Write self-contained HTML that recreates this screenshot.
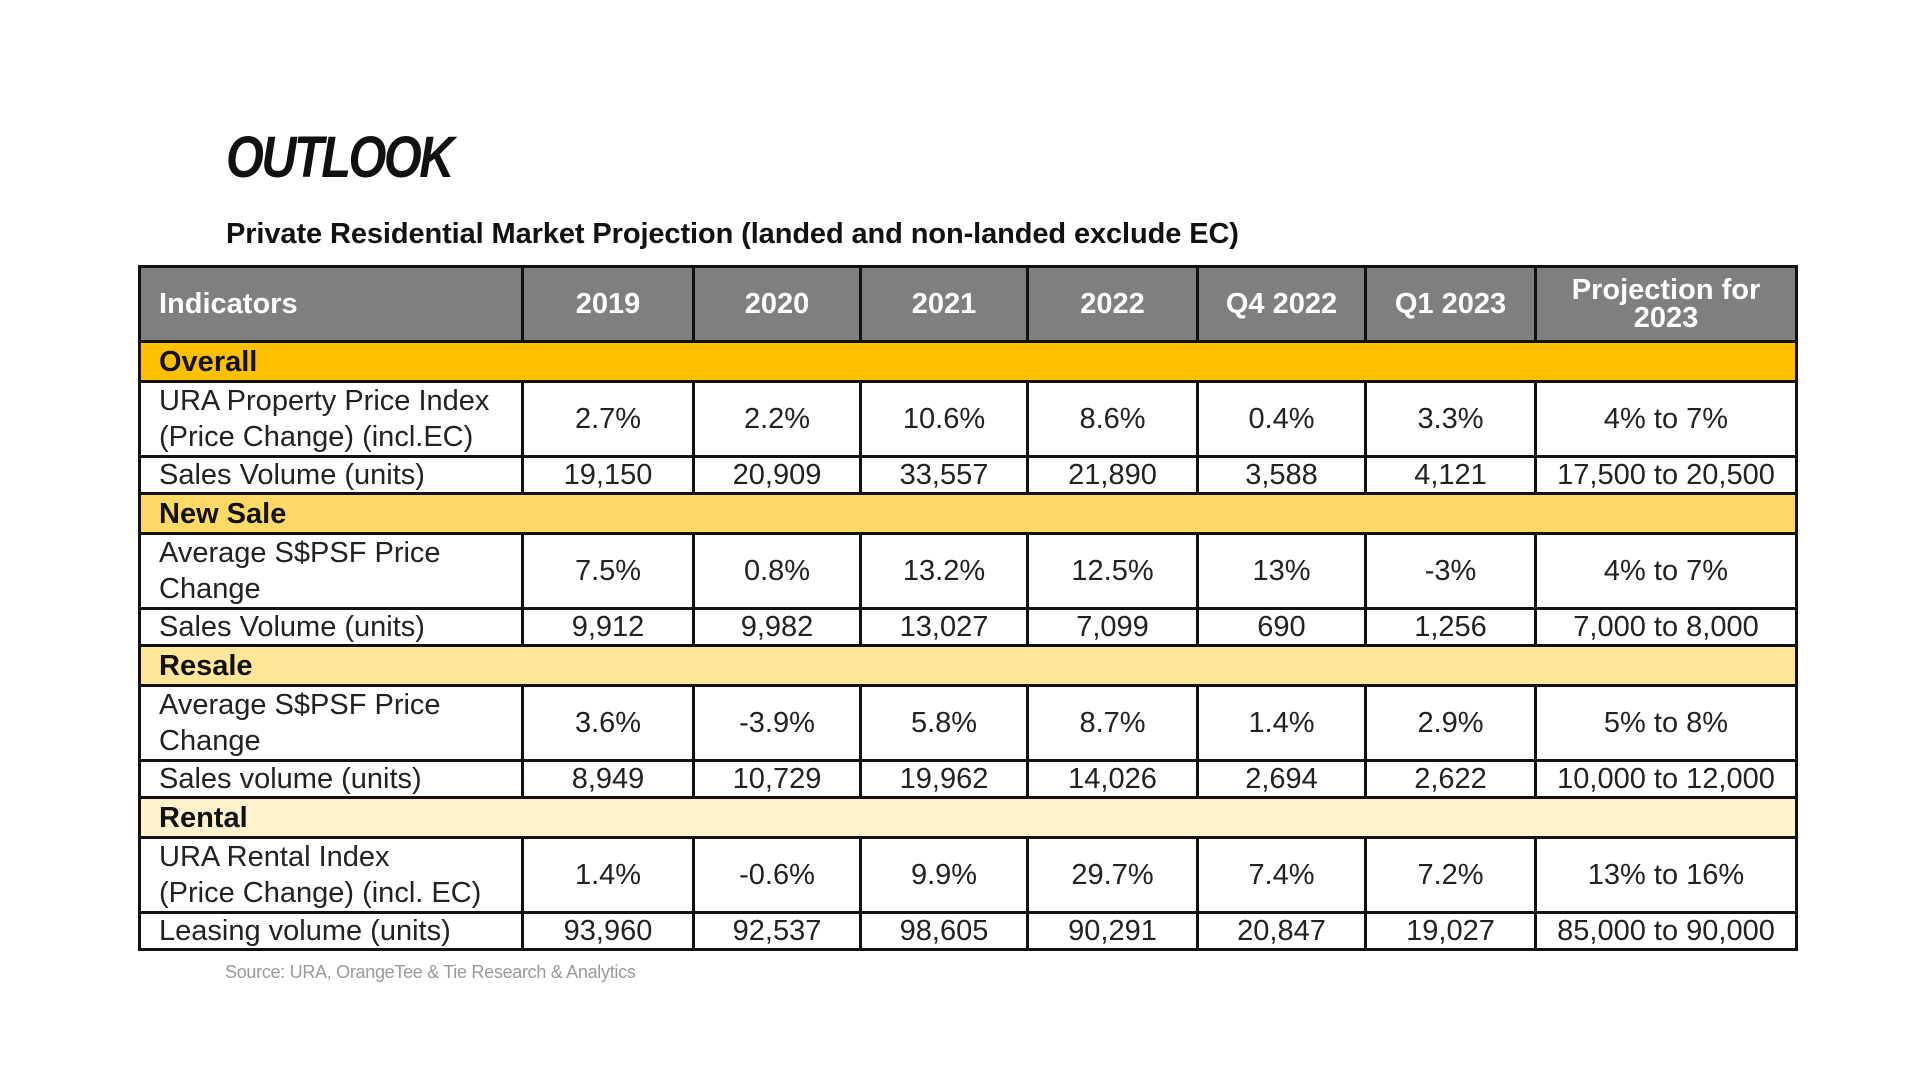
<!DOCTYPE html>
<html><head><meta charset="utf-8"><style>
html,body{margin:0;padding:0;background:#fff;width:1920px;height:1080px;overflow:hidden}
body{position:relative;font-family:"Liberation Sans",sans-serif}
.title{position:absolute;left:226px;top:124px;font-family:"Liberation Sans",sans-serif;font-style:italic;font-weight:bold;font-size:58px;letter-spacing:-3px;color:#111;transform:scaleX(0.84);transform-origin:left top}
.sub{position:absolute;left:226px;top:218px;font-family:"Liberation Sans",sans-serif;font-weight:bold;font-size:29px;color:#111;letter-spacing:-0.1px}
table{position:absolute;left:138px;top:265px;width:1657px;border-collapse:collapse;table-layout:fixed}
td{border:3px solid #111;padding:0;text-align:center;font-size:29px;color:#222;line-height:34px;overflow:hidden;white-space:nowrap}
td.l{text-align:left;padding-left:18px}
tr.h td{background:#7f7f7f;color:#fff;font-weight:bold;height:72px;line-height:28px;white-space:normal}
tr.s td{font-weight:bold;color:#111;text-align:left;padding-left:18px;height:37px;line-height:34px}
tr.t td{height:70px;line-height:36px}
tr.o td{height:30px}
.src{position:absolute;left:225px;top:962px;font-family:"Liberation Sans",sans-serif;font-size:18px;color:#999;letter-spacing:-0.3px}
</style></head><body>
<div class="title">OUTLOOK</div>
<div class="sub">Private Residential Market Projection (landed and non-landed exclude EC)</div>
<table>
<colgroup><col style="width:383px"><col style="width:171px"><col style="width:167px"><col style="width:167px"><col style="width:170px"><col style="width:168px"><col style="width:170px"><col style="width:261px"></colgroup>
<tr class="h"><td class="l">Indicators</td><td>2019</td><td>2020</td><td>2021</td><td>2022</td><td>Q4 2022</td><td>Q1 2023</td><td>Projection for<br>2023</td></tr>
<tr class="s"><td colspan="8" style="background:#ffc000">Overall</td></tr>
<tr class="t"><td class="l">URA Property Price Index<br>(Price Change) (incl.EC)</td><td>2.7%</td><td>2.2%</td><td>10.6%</td><td>8.6%</td><td>0.4%</td><td>3.3%</td><td>4% to 7%</td></tr>
<tr class="o"><td class="l">Sales Volume (units)</td><td>19,150</td><td>20,909</td><td>33,557</td><td>21,890</td><td>3,588</td><td>4,121</td><td>17,500 to 20,500</td></tr>
<tr class="s"><td colspan="8" style="background:#ffd966">New Sale</td></tr>
<tr class="t"><td class="l">Average S$PSF Price<br>Change</td><td>7.5%</td><td>0.8%</td><td>13.2%</td><td>12.5%</td><td>13%</td><td>-3%</td><td>4% to 7%</td></tr>
<tr class="o"><td class="l">Sales Volume (units)</td><td>9,912</td><td>9,982</td><td>13,027</td><td>7,099</td><td>690</td><td>1,256</td><td>7,000 to 8,000</td></tr>
<tr class="s"><td colspan="8" style="background:#ffe699">Resale</td></tr>
<tr class="t"><td class="l">Average S$PSF Price<br>Change</td><td>3.6%</td><td>-3.9%</td><td>5.8%</td><td>8.7%</td><td>1.4%</td><td>2.9%</td><td>5% to 8%</td></tr>
<tr class="o"><td class="l">Sales volume (units)</td><td>8,949</td><td>10,729</td><td>19,962</td><td>14,026</td><td>2,694</td><td>2,622</td><td>10,000 to 12,000</td></tr>
<tr class="s"><td colspan="8" style="background:#fff2cc">Rental</td></tr>
<tr class="t"><td class="l">URA Rental Index<br>(Price Change) (incl. EC)</td><td>1.4%</td><td>-0.6%</td><td>9.9%</td><td>29.7%</td><td>7.4%</td><td>7.2%</td><td>13% to 16%</td></tr>
<tr class="o"><td class="l">Leasing volume (units)</td><td>93,960</td><td>92,537</td><td>98,605</td><td>90,291</td><td>20,847</td><td>19,027</td><td>85,000 to 90,000</td></tr>
</table>
<div class="src">Source: URA, OrangeTee &amp; Tie Research &amp; Analytics</div>
</body></html>
